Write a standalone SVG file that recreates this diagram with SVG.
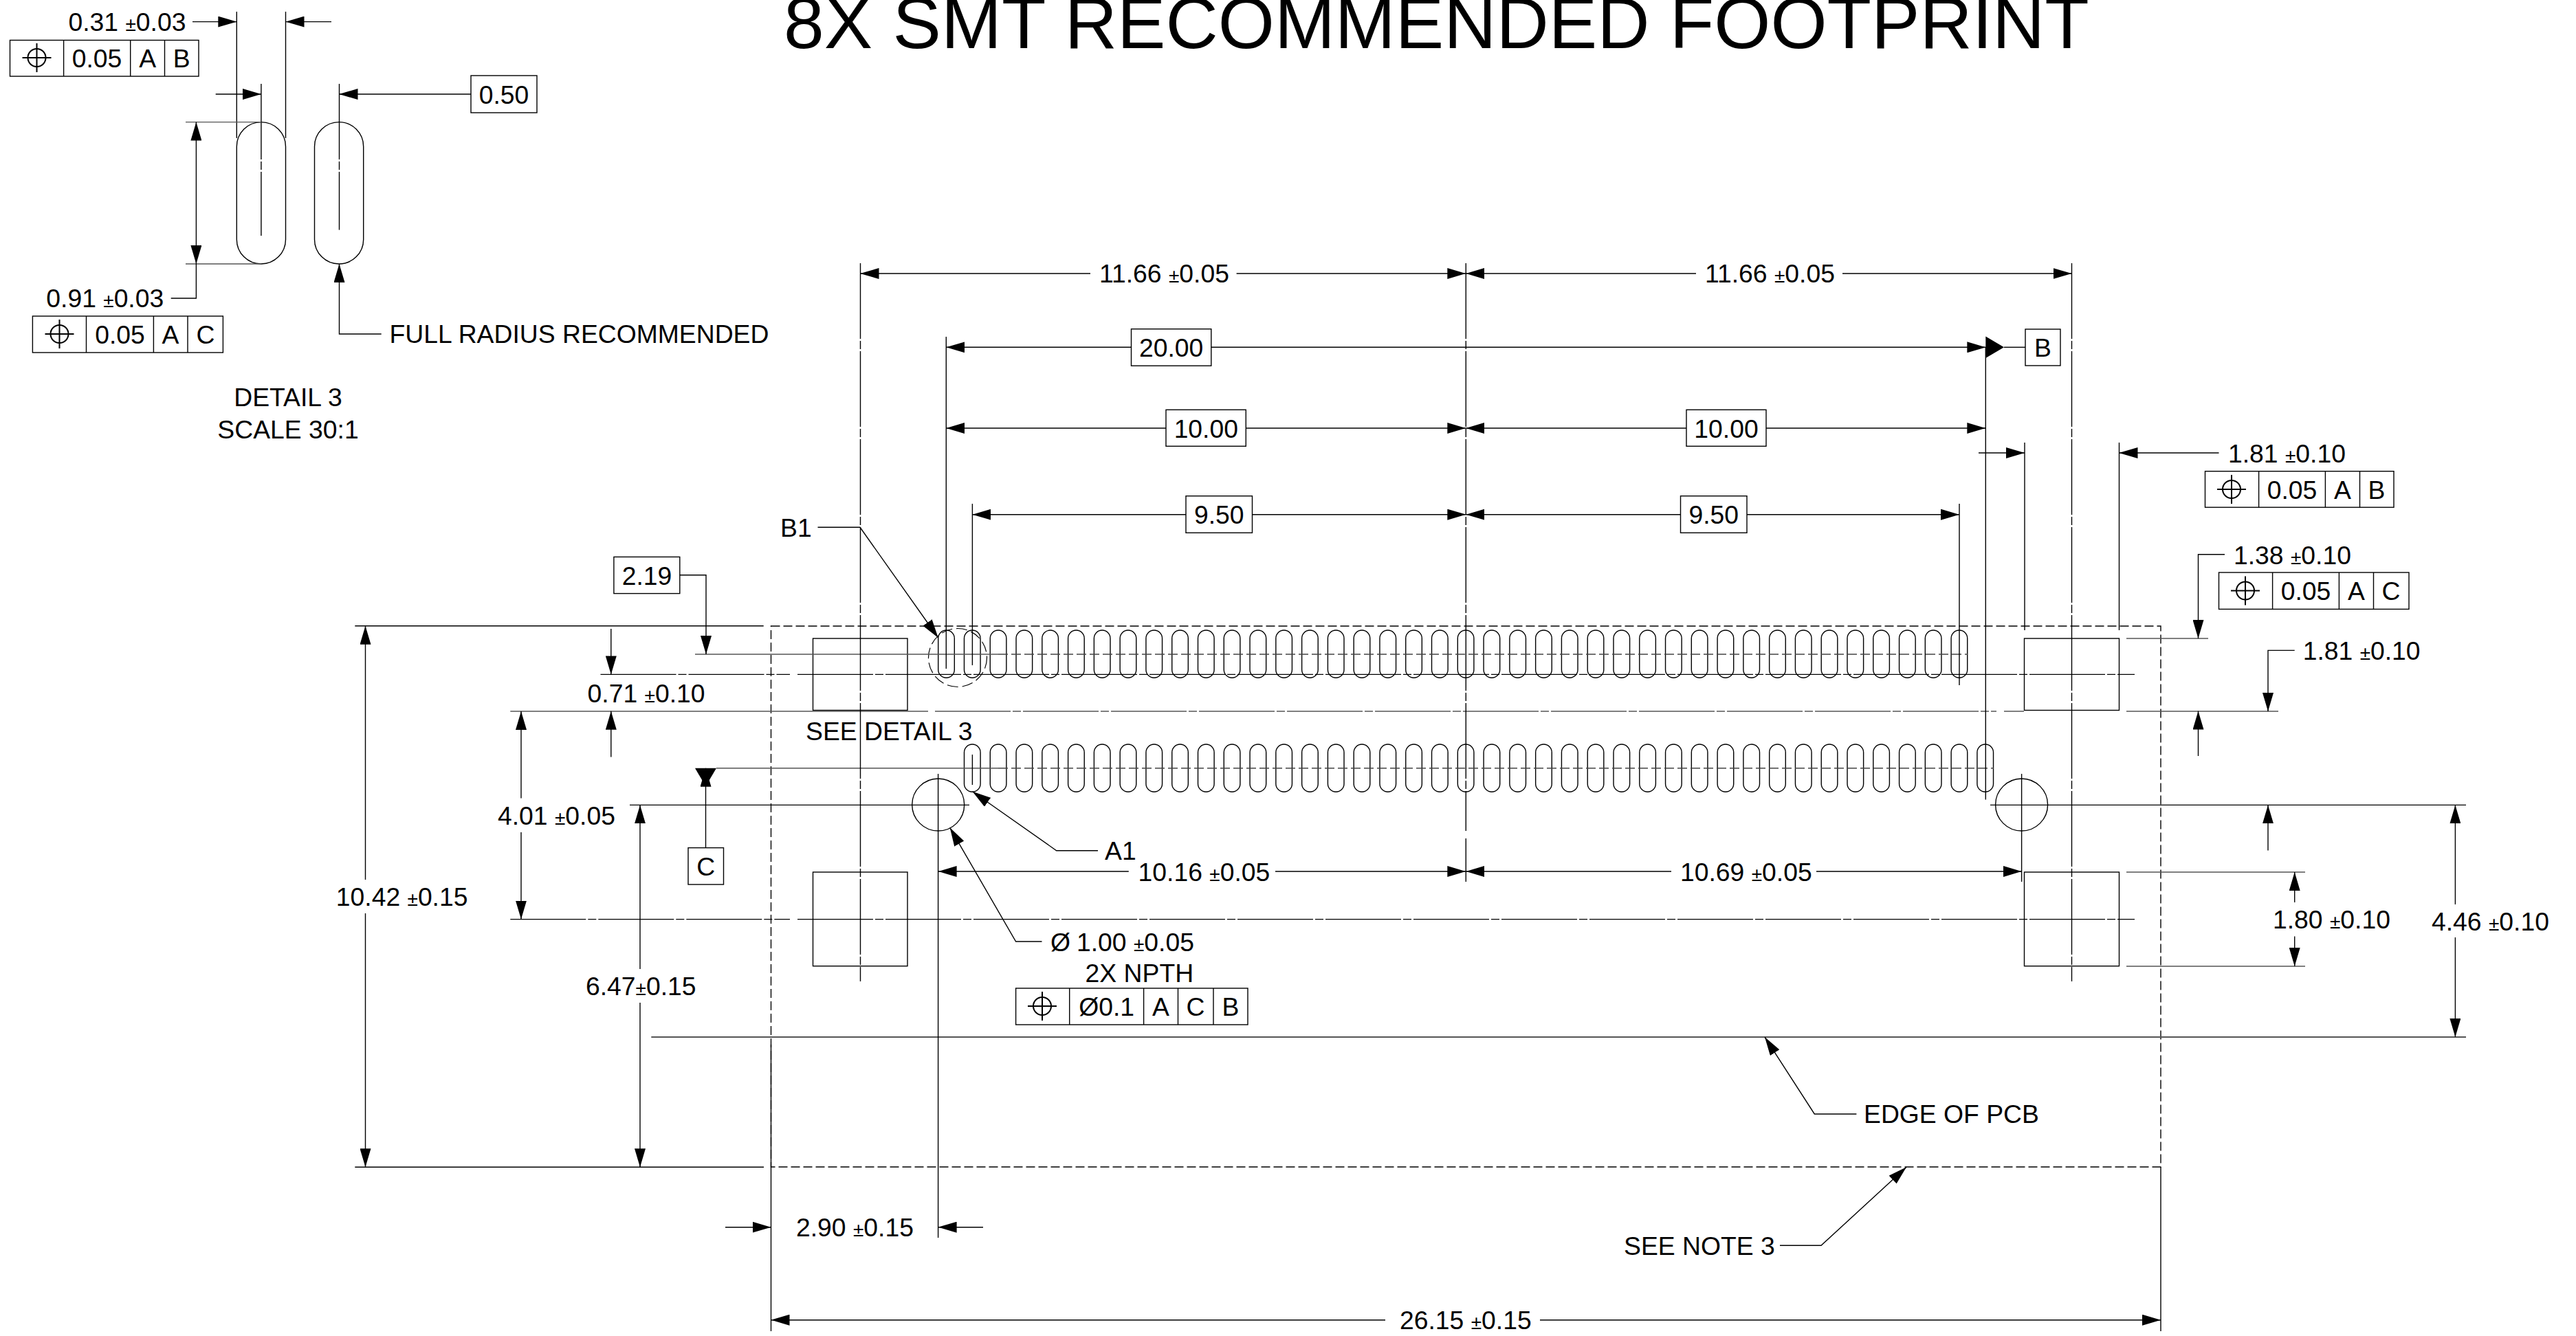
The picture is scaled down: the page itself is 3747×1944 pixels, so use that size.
<svg xmlns="http://www.w3.org/2000/svg" xmlns:xlink="http://www.w3.org/1999/xlink" width="3747" height="1944" viewBox="0 0 3747 1944">
<style>
text{font-family:"Liberation Sans",Arial,sans-serif;font-size:37.3px;fill:#000}
.m{text-anchor:middle}
.title{font-size:105.6px}
.pm{font-size:28px}
.l,.a,.d,.c,.s,.box,.pad{fill:none;stroke:#000;stroke-width:1.4}
.g{stroke:#555}
.a{marker-end:url(#arr)}
.d{stroke-dasharray:13 5}
.c{stroke-dasharray:110 3 12 3}
.s{stroke:#444;stroke-dasharray:14 5;stroke-width:1.6}
.box{fill:#fff}
.sym{fill:none;stroke:#000;stroke-width:2}
</style>
<defs>
<marker id="arr" markerUnits="userSpaceOnUse" viewBox="0 0 27 16" refX="27" refY="8" markerWidth="27" markerHeight="16" orient="auto"><path d="M0 0L27 8L0 16Z" fill="#000"/></marker>
<g id="pos" class="sym"><circle r="13"/><path d="M-21 0H21M0 -21V21"/></g>
<rect id="pd" width="23.6" height="69.3" rx="11.8" ry="11.8" class="pad"/>
<g id="p10">
<use xlink:href="#pd" href="#pd" x="0"/><use xlink:href="#pd" href="#pd" x="37.78"/><use xlink:href="#pd" href="#pd" x="75.56"/><use xlink:href="#pd" href="#pd" x="113.34"/><use xlink:href="#pd" href="#pd" x="151.12"/><use xlink:href="#pd" href="#pd" x="188.9"/><use xlink:href="#pd" href="#pd" x="226.68"/><use xlink:href="#pd" href="#pd" x="264.46"/><use xlink:href="#pd" href="#pd" x="302.24"/><use xlink:href="#pd" href="#pd" x="340.02"/>
</g>
</defs>
<rect width="3747" height="1944" fill="#fff"/>
<text id="title" class="title" x="1140" y="69.5">8X SMT RECOMMENDED FOOTPRINT</text>

<g id="detail-3">
<rect class="pad" x="344.3" y="177.6" width="71.2" height="206.4" rx="35.6" ry="35.6"/>
<rect class="pad" x="457.5" y="177.6" width="71.2" height="206.4" rx="35.6" ry="35.6"/>
<text class="m" x="419" y="590.5">DETAIL 3</text>
<text class="m" x="419" y="638">SCALE 30:1</text>
</g>

<g id="board-outline">
<path class="d" d="M1121.5 911H3143V1698H1121.5Z"/>
</g>

<g id="footprint">
<rect class="pad" x="1182.5" y="929" width="137.5" height="104.5"/>
<rect class="pad" x="2944.5" y="929" width="138" height="104.5"/>
<rect class="pad" x="1182.5" y="1269" width="137.5" height="136.7"/>
<rect class="pad" x="2944.5" y="1269" width="138" height="136.7"/>
<g id="row-upper" transform="translate(1364.7 917)"><use xlink:href="#p10" href="#p10"/><use xlink:href="#p10" href="#p10" x="377.8"/><use xlink:href="#p10" href="#p10" x="755.6"/><use xlink:href="#p10" href="#p10" x="1133.4"/></g>
<g id="row-lower" transform="translate(1402.5 1083)"><use xlink:href="#p10" href="#p10"/><use xlink:href="#p10" href="#p10" x="377.8"/><use xlink:href="#p10" href="#p10" x="755.6"/><use xlink:href="#p10" href="#p10" x="1133.4"/></g>
<circle class="pad" cx="1364.7" cy="1171" r="38"/>
<circle class="pad" cx="2940.6" cy="1171" r="38"/>
<circle class="pad" cx="1393" cy="957" r="42.5" style="stroke-dasharray:16 6;stroke-width:1.2"/>
</g>

<g id="connectors">
<!-- detail 3 dimensions -->
<path class="l" d="M344.3 17V201M415.5 17V201"/>
<path class="c" d="M379.9 122V343M493.5 122V334.6"/>
<path class="a" d="M280 31.6H344.3"/>
<path class="a" d="M482 31.6H415.5"/>
<path class="a" d="M313.7 137H379.9"/>
<path class="a" d="M685 137H493.5"/>
<path class="l g" d="M270 177.6H380M270 384H380"/>
<path class="a" d="M285.4 280V177.6"/>
<path class="a" d="M285.4 280V384"/>
<path class="l" d="M285.4 384V434H248.7"/>
<path class="a" d="M554.7 486H493.5V384"/>

<!-- horizontal centre and reference lines -->
<path class="l g" d="M1011 952H1452"/>
<path class="s" d="M1452 952H2862"/>
<path class="c" d="M873.5 981.4H1149M1160 981.4H3105"/>
<path class="l g" d="M742.3 1035H1350"/>
<path class="c g" d="M1360 1035H2904"/>
<path class="l g" d="M2915 1035H2944M3093 1035H3314M3093 929H3212"/>
<path class="l g" d="M1042 1117.8H1452"/>
<path class="s" d="M1452 1117.8H2900"/>
<path class="l" d="M916 1171.4H1410M2895 1171.4H3587"/>
<path class="l g" d="M3093 1269H3353M3093 1406H3353"/>
<path class="c" d="M742.3 1337.6H1149M1160 1337.6H3105"/>
<path class="l g" d="M947.3 1509H3587" style="stroke-width:2.2"/>
<path class="l" d="M516.3 910.8H1110.7M516.3 1698.3H1111"/>

<!-- vertical extension lines -->
<path class="c" d="M1251.5 383V1428M3013.5 383V1428M2132.3 383V1209M2132.3 1220V1283"/>
<path class="l" d="M1376.3 490V973M1414.4 733V968M1414.4 1098V1142M2888.3 505V1163.5M2850 733V997M2945 644V917M3082.5 644V917"/>
<path class="l" d="M1364.6 1126V1801M2940.6 1126V1283"/>
<path class="l" d="M1121.5 1520V1937M3143 1698V1937"/>

<!-- top dimensions -->
<path class="a" d="M1586 398H1251.5"/><path class="a" d="M1798.6 398H2132.3"/>
<path class="a" d="M2467 398H2132.3"/><path class="a" d="M2680 398H3013.5"/>
<path class="a" d="M1645.5 505.3H1376.3"/><path class="a" d="M1761.8 505.3H2888.3"/>
<path class="a" d="M1696 623H1376.3"/><path class="a" d="M1812.3 623H2132.3"/>
<path class="a" d="M2453 623H2132.3"/><path class="a" d="M2569 623H2888.3"/>
<path class="a" d="M1725 748.7H1414.4"/><path class="a" d="M1821.5 748.7H2132.3"/>
<path class="a" d="M2444.5 748.7H2132.3"/><path class="a" d="M2541 748.7H2850"/>
<path class="a" d="M2878 659H2945"/><path class="a" d="M3227.5 659H3082.5"/>
<!-- datum B -->
<path d="M2888.3 489.5L2915 505.3L2888.3 521Z" fill="#000"/>
<path class="l" d="M2915 505.3H2946"/>
<!-- right dimensions -->
<path class="a" d="M3236 806.8H3197.5V929"/>
<path class="a" d="M3197.5 1100V1034.6"/>
<path class="a" d="M3337.7 946.4H3299V1035"/>
<path class="a" d="M3299 1237.5V1171.4"/>
<path class="a" d="M3337.7 1313V1269"/>
<path class="a" d="M3337.7 1362.5V1406"/>
<path class="a" d="M3571.4 1316V1171.4"/>
<path class="a" d="M3571.4 1364V1509"/>
<!-- left dimensions -->
<path class="a" d="M988.8 836.8H1027V952"/>
<path class="a" d="M888.8 915V981.4"/>
<path class="a" d="M888.8 1101.4V1034.8"/>
<path class="a" d="M531.5 1280V910.8"/>
<path class="a" d="M531.5 1329V1698.3"/>
<path class="a" d="M758 1161.4V1035"/>
<path class="a" d="M758 1211V1337.6"/>
<path class="a" d="M931 1410V1171.4"/>
<path class="a" d="M931 1459V1698.3"/>
<!-- datum C -->
<path d="M1011 1117.8H1042L1026.5 1144Z" fill="#000"/>
<path class="a" d="M1026.5 1233.6V1117.8"/>
<!-- centre dimensions -->
<path class="a" d="M1641.8 1268H1364.6"/><path class="a" d="M1855 1268H2132.3"/>
<path class="a" d="M2431 1268H2132.3"/><path class="a" d="M2642 1268H2940.6"/>
<!-- leaders -->
<path class="a" d="M1189.5 767.3H1251L1364.7 928"/>
<path class="a" d="M1597 1237.7H1536.7L1414.5 1151.7"/>
<path class="a" d="M1515.5 1370H1477.6L1381.7 1204.3"/>
<path class="a" d="M2700.4 1621H2639.3L2567 1509"/>
<path class="a" d="M2589 1812.3H2649L2773 1698.3"/>
<!-- bottom dimensions -->
<path class="a" d="M1055 1785.7H1121.5"/><path class="a" d="M1430 1785.7H1364.6"/>
<path class="a" d="M2015 1920.7H1121.5"/><path class="a" d="M2240 1920.7H3143"/>
</g>

<g id="datum-b"><rect class="box" x="2946" y="479" width="51" height="53"/><text class="m" x="2971.5" y="519">B</text></g>
<g id="datum-c"><rect class="box" x="1001" y="1233.6" width="51.5" height="53.4"/><text class="m" x="1026.7" y="1274">C</text></g>
<g id="basic-050"><rect class="box" x="685" y="110" width="96" height="54"/><text class="m" x="733" y="150.5">0.50</text></g>
<g id="basic-2000"><rect class="box" x="1645.5" y="478.7" width="116.3" height="53.6"/><text class="m" x="1703.6" y="518.8">20.00</text></g>
<g id="basic-1000-l"><rect class="box" x="1696" y="596.3" width="116.3" height="53"/><text class="m" x="1754.3" y="636.5">10.00</text></g>
<g id="basic-1000-r"><rect class="box" x="2453" y="596.3" width="116" height="53"/><text class="m" x="2511" y="636.5">10.00</text></g>
<g id="basic-950-l"><rect class="box" x="1725" y="721.7" width="96.5" height="53.6"/><text class="m" x="1773.2" y="762">9.50</text></g>
<g id="basic-950-r"><rect class="box" x="2444.5" y="721.7" width="96.5" height="53.6"/><text class="m" x="2492.7" y="762">9.50</text></g>
<g id="basic-219"><rect class="box" x="892.9" y="810.4" width="95.9" height="53.2"/><text class="m" x="941" y="851">2.19</text></g>

<g id="fcf-1"><rect class="box" x="14.5" y="58.5" width="274.5" height="52.5"/><path class="l" d="M92.6 58.5V111M189.7 58.5V111M239.5 58.5V111"/><use xlink:href="#pos" href="#pos" x="53.5" y="84"/><text class="m" x="141" y="98">0.05</text><text class="m" x="214.6" y="98">A</text><text class="m" x="264.3" y="98">B</text></g>
<g id="fcf-2"><rect class="box" x="47.4" y="460" width="277" height="53"/><path class="l" d="M125.5 460V513M223.4 460V513M273 460V513"/><use xlink:href="#pos" href="#pos" x="86.5" y="486"/><text class="m" x="174.5" y="500">0.05</text><text class="m" x="248" y="500">A</text><text class="m" x="299" y="500">C</text></g>
<g id="fcf-3"><rect class="box" x="3207.5" y="685.7" width="274.5" height="52.5"/><path class="l" d="M3285.6 685.7V738.2M3382.4 685.7V738.2M3432.5 685.7V738.2"/><use xlink:href="#pos" href="#pos" x="3246" y="712"/><text class="m" x="3334" y="725.5">0.05</text><text class="m" x="3407.5" y="725.5">A</text><text class="m" x="3457" y="725.5">B</text></g>
<g id="fcf-4"><rect class="box" x="3227.5" y="833" width="276.5" height="53.4"/><path class="l" d="M3305.6 833V886.4M3402.4 833V886.4M3452.5 833V886.4"/><use xlink:href="#pos" href="#pos" x="3266" y="859.5"/><text class="m" x="3354" y="872.5">0.05</text><text class="m" x="3427.5" y="872.5">A</text><text class="m" x="3478" y="872.5">C</text></g>
<g id="fcf-5"><rect class="box" x="1477.6" y="1438" width="337.4" height="53"/><path class="l" d="M1555.7 1438V1491M1663.6 1438V1491M1713.5 1438V1491M1765 1438V1491"/><use xlink:href="#pos" href="#pos" x="1516" y="1464"/><text class="m" x="1609.6" y="1477.5">Ø0.1</text><text class="m" x="1688.5" y="1477.5">A</text><text class="m" x="1739" y="1477.5">C</text><text class="m" x="1790" y="1477.5">B</text></g>

<g id="labels">
<text x="99.5" y="44.5">0.31 <tspan class="pm">±</tspan>0.03</text>
<text x="67.3" y="446.5">0.91 <tspan class="pm">±</tspan>0.03</text>
<text x="566.5" y="498.5">FULL RADIUS RECOMMENDED</text>
<text x="1599" y="411">11.66 <tspan class="pm">±</tspan>0.05</text>
<text x="2480" y="411">11.66 <tspan class="pm">±</tspan>0.05</text>
<text x="3241" y="673">1.81 <tspan class="pm">±</tspan>0.10</text>
<text x="3249" y="821">1.38 <tspan class="pm">±</tspan>0.10</text>
<text x="3349.7" y="959.5">1.81 <tspan class="pm">±</tspan>0.10</text>
<text x="1135" y="780.5">B1</text>
<text x="854.6" y="1022.3">0.71 <tspan class="pm">±</tspan>0.10</text>
<text x="1172" y="1076.5">SEE DETAIL 3</text>
<text x="724" y="1200">4.01 <tspan class="pm">±</tspan>0.05</text>
<text x="1607" y="1250.5">A1</text>
<text x="1655.6" y="1281.5">10.16 <tspan class="pm">±</tspan>0.05</text>
<text x="2444" y="1282">10.69 <tspan class="pm">±</tspan>0.05</text>
<text x="488.8" y="1318">10.42 <tspan class="pm">±</tspan>0.15</text>
<text x="3306" y="1350.5">1.80 <tspan class="pm">±</tspan>0.10</text>
<text x="3537" y="1354">4.46 <tspan class="pm">±</tspan>0.10</text>
<text x="852" y="1447.8">6.47<tspan class="pm">±</tspan>0.15</text>
<text x="1528" y="1383.5">Ø<tspan dx="9">1.00 </tspan><tspan class="pm">±</tspan>0.05</text>
<text x="1578.6" y="1428.5">2X NPTH</text>
<text x="2711" y="1633.8">EDGE OF PCB</text>
<text x="1158" y="1798.5">2.90 <tspan class="pm">±</tspan>0.15</text>
<text x="2362" y="1825.5">SEE NOTE 3</text>
<text x="2036" y="1933.5">26.15 <tspan class="pm">±</tspan>0.15</text>
</g>
</svg>
